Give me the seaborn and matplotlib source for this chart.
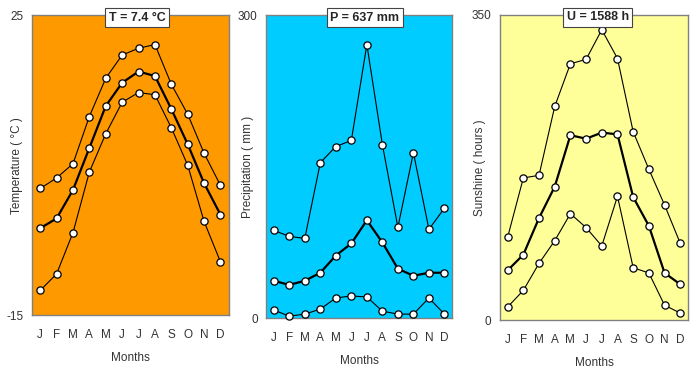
"""Three climate panels: temperature, precipitation, sunshine (monthly max / mean / min)."""

import matplotlib.pyplot as plt
import matplotlib
import seaborn as sns
import pandas as pd
from matplotlib.ticker import FixedLocator

months = ['J', 'F', 'M', 'A', 'M', 'J', 'J', 'A', 'S', 'O', 'N', 'D']

# temperature (°C)
temp_max = [1.9, 3.3, 5.2, 11.5, 16.6, 19.7, 20.6, 21.1, 15.8, 11.8, 6.6, 2.3]
temp_mean = [-3.4, -2.1, 1.7, 7.3, 12.9, 16.0, 17.5, 16.9, 12.5, 7.8, 2.6, -1.6]
temp_min = [-11.7, -9.5, -4.0, 4.1, 9.2, 13.4, 14.7, 14.4, 10.0, 5.0, -2.5, -7.9]

# precipitation (mm)
prec_max = [87, 81, 79, 154, 170, 176, 271, 172, 90, 164, 88, 109]
prec_mean = [37, 33, 37, 45, 62, 74, 97, 75, 49, 42, 45, 45]
prec_min = [8, 2, 4, 9, 20, 22, 21, 7, 4, 4, 20, 4]

# sunshine (hours)
sun_max = [95, 163, 166, 245, 294, 299, 333, 300, 216, 173, 132, 88]
sun_mean = [57, 75, 117, 153, 212, 208, 215, 213, 141, 108, 54, 41]
sun_min = [15, 34, 65, 91, 122, 106, 85, 142, 60, 54, 17, 8]

sns.set_style("white")
matplotlib.rcParams['font.family'] = ['Liberation Sans', 'DejaVu Sans']

fig = plt.figure(figsize=(7, 3.73), dpi=100)

panels = [
    dict(rect=[0.0457, 0.155, 0.281, 0.804], color='#FF9900', ylim=(-15, 25),
         ylabel='Temperature ( °C )', title='T = 7.4 °C', labx=-0.046,
         series=(temp_max, temp_mean, temp_min), dx=0.035),
    dict(rect=[0.380, 0.147, 0.266, 0.812], color='#00CCFF', ylim=(0, 300),
         ylabel='Precipitation ( mm )', title='P = 637 mm', labx=-0.066,
         series=(prec_max, prec_mean, prec_min), dx=0.03),
    dict(rect=[0.714, 0.142, 0.269, 0.818], color='#FFFF99', ylim=(0, 350),
         ylabel='Sunshine ( hours )', title='U = 1588 h', labx=-0.072,
         series=(sun_max, sun_mean, sun_min), dx=0.02),
]

x = list(range(12))

for p in panels:
    ax = fig.add_axes(p['rect'])
    ax.set_facecolor(p['color'])
    hi, mid, lo = p['series']
    df = pd.DataFrame({'x': x * 3, 'value': hi + mid + lo,
                       'kind': ['max'] * 12 + ['mean'] * 12 + ['min'] * 12})
    sns.lineplot(data=df, x='x', y='value', hue='kind', size='kind',
                 sizes={'max': 0.8, 'mean': 1.6, 'min': 0.8},
                 palette={'max': 'black', 'mean': 'black', 'min': 'black'},
                 marker='o', markersize=5.2, markerfacecolor='white',
                 markeredgecolor='black', markeredgewidth=0.9,
                 legend=False, ax=ax, zorder=3, clip_on=False)

    ax.set_xlim(-0.5, 11.5)
    ax.set_ylim(*p['ylim'])
    ax.set_yticks(p['ylim'])
    ax.set_yticklabels([f'{v:g}' for v in p['ylim']], fontsize=8.5, color='#333333')
    ax.set_xticks(x)
    ax.set_xticklabels(months, fontsize=8.5, color='#333333')
    ax.xaxis.set_minor_locator(FixedLocator([i - 0.5 for i in range(13)]))
    ax.tick_params(axis='x', which='major', length=0, pad=10)
    ax.tick_params(axis='x', which='minor', length=4, direction='out',
                   color='#808080', width=1)
    ax.tick_params(axis='y', length=4, direction='out', color='#808080',
                   width=1, pad=2)
    ax.set_xlabel('Months', fontsize=8.5, labelpad=8, color='#333333')
    ax.set_ylabel(p['ylabel'], fontsize=8.5, color='#333333')
    ax.yaxis.set_label_coords(p['labx'], 0.5)
    for s in ax.spines.values():
        s.set_color('#808080')
        s.set_linewidth(1)
    ax.text(0.5 + p['dx'], 0.992, p['title'], transform=ax.transAxes,
            ha='center', va='center', fontsize=9, fontweight='bold',
            bbox=dict(boxstyle='square,pad=0.28', facecolor='white',
                      edgecolor='#444444', linewidth=0.8), zorder=5)

plt.savefig('out.png', dpi=100)
plt.close()
